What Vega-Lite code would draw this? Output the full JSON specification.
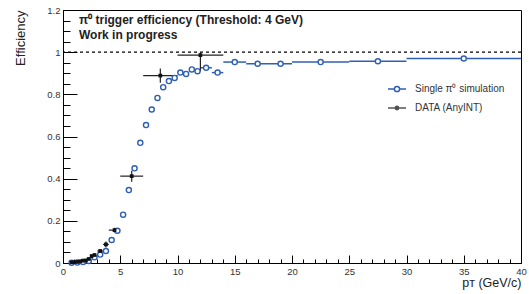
{
  "$schema": "https://vega.github.io/schema/vega-lite/v6.json",
  "width": 458,
  "height": 253,
  "autosize": {"type": "none"},
  "padding": {"left": 63, "top": 10, "right": 8, "bottom": 31},
  "config": {
    "font": "Liberation Sans",
    "view": {"stroke": "black", "strokeWidth": 1},
    "axis": {"grid": false, "domainColor": "black", "tickColor": "black", "tickWidth": 1, "labelColor": "#333", "labelFontSize": 9.5, "titleColor": "#222", "titleFontWeight": "normal", "titleFontSize": 12.5, "labelOverlap": false, "labelFlush": false, "labelBound": false},
    "legend": {"labelFont": "Liberation Sans", "labelFontSize": 10, "labelColor": "#333", "padding": 0, "symbolSize": 324, "symbolStrokeWidth": 1.5, "labelOffset": 8, "orient": "none", "title": null, "symbolOpacity": 1}
  },
  "resolve": {"axis": {"x": "independent", "y": "independent"}},
  "title": {
    "text": ["π⁰ trigger efficiency (Threshold: 4 GeV)", "Work in progress"],
    "anchor": "start",
    "frame": "group",
    "orient": "top",
    "baseline": "top",
    "fontSize": 12,
    "fontWeight": "bold",
    "color": "#222",
    "lineHeight": 15.5,
    "offset": 0,
    "dx": 16,
    "dy": 37
  },
  "datasets": {
    "sim": [
      {"pt": 0.75, "eff": 0.001},
      {"pt": 1.25, "eff": 0.002},
      {"pt": 1.75, "eff": 0.005},
      {"pt": 2.25, "eff": 0.010},
      {"pt": 2.75, "eff": 0.027},
      {"pt": 3.25, "eff": 0.040},
      {"pt": 3.75, "eff": 0.057},
      {"pt": 4.25, "eff": 0.109},
      {"pt": 4.75, "eff": 0.153},
      {"pt": 5.25, "eff": 0.229},
      {"pt": 5.75, "eff": 0.346},
      {"pt": 6.25, "eff": 0.449},
      {"pt": 6.75, "eff": 0.570},
      {"pt": 7.25, "eff": 0.654},
      {"pt": 7.75, "eff": 0.728},
      {"pt": 8.25, "eff": 0.783},
      {"pt": 8.75, "eff": 0.834},
      {"pt": 9.25, "eff": 0.863},
      {"pt": 9.75, "eff": 0.878},
      {"pt": 10.25, "eff": 0.903},
      {"pt": 10.75, "eff": 0.897},
      {"pt": 11.25, "eff": 0.918},
      {"pt": 11.75, "eff": 0.910},
      {"pt": 12.5, "eff": 0.926, "xlo": 12, "xhi": 13},
      {"pt": 13.5, "eff": 0.903, "xlo": 13, "xhi": 14},
      {"pt": 15, "eff": 0.953, "xlo": 14, "xhi": 16},
      {"pt": 17, "eff": 0.945, "xlo": 16, "xhi": 18},
      {"pt": 19, "eff": 0.945, "xlo": 18, "xhi": 20},
      {"pt": 22.5, "eff": 0.953, "xlo": 20, "xhi": 25},
      {"pt": 27.5, "eff": 0.957, "xlo": 25, "xhi": 30},
      {"pt": 35, "eff": 0.970, "xlo": 30, "xhi": 40}
    ],
    "dat": [
      {"pt": 0.75, "eff": 0.003, "xlo": 0.625, "xhi": 0.875, "ylo": 0.001, "yhi": 0.005},
      {"pt": 1.0, "eff": 0.004, "xlo": 0.875, "xhi": 1.125, "ylo": 0.002, "yhi": 0.006},
      {"pt": 1.25, "eff": 0.005, "xlo": 1.125, "xhi": 1.375, "ylo": 0.003, "yhi": 0.007},
      {"pt": 1.5, "eff": 0.008, "xlo": 1.375, "xhi": 1.625, "ylo": 0.006, "yhi": 0.010},
      {"pt": 1.75, "eff": 0.011, "xlo": 1.625, "xhi": 1.875, "ylo": 0.009, "yhi": 0.013},
      {"pt": 2.0, "eff": 0.012, "xlo": 1.875, "xhi": 2.125, "ylo": 0.009, "yhi": 0.015},
      {"pt": 2.25, "eff": 0.019, "xlo": 2.125, "xhi": 2.375, "ylo": 0.016, "yhi": 0.022},
      {"pt": 2.5, "eff": 0.033, "xlo": 2.375, "xhi": 2.625, "ylo": 0.029, "yhi": 0.037},
      {"pt": 2.75, "eff": 0.038, "xlo": 2.625, "xhi": 2.875, "ylo": 0.034, "yhi": 0.042},
      {"pt": 3.25, "eff": 0.057, "xlo": 3.0, "xhi": 3.5, "ylo": 0.051, "yhi": 0.063},
      {"pt": 3.75, "eff": 0.088, "xlo": 3.5, "xhi": 4.0, "ylo": 0.074, "yhi": 0.102},
      {"pt": 4.5, "eff": 0.156, "xlo": 4.0, "xhi": 5.0, "ylo": 0.145, "yhi": 0.167},
      {"pt": 6.0, "eff": 0.412, "xlo": 5.0, "xhi": 7.0, "ylo": 0.385, "yhi": 0.437},
      {"pt": 8.5, "eff": 0.889, "xlo": 7.0, "xhi": 10.0, "ylo": 0.855, "yhi": 0.922},
      {"pt": 12.0, "eff": 0.986, "xlo": 10.0, "xhi": 14.0, "ylo": 0.908, "yhi": 1.0}
    ]
  },
  "layer": [
    {
      "data": {"name": "sim"},
      "mark": {"type": "rule", "color": "#2f5fb5", "strokeWidth": 1.5},
      "encoding": {
        "x": {
          "field": "xlo", "type": "quantitative", "scale": {"domain": [0, 40]},
          "axis": {
            "orient": "bottom",
            "title": "pᴛ (GeV/c)",
            "values": [0, 5, 10, 15, 20, 25, 30, 35, 40],
            "tickSize": -8,
            "labelPadding": 11.5,
            "titleAnchor": "end", "titleAlign": "right", "titleX": 458, "titleY": 23.5, "titleBaseline": "alphabetic"
          }
        },
        "x2": {"field": "xhi"},
        "y": {
          "field": "eff", "type": "quantitative", "scale": {"domain": [0, 1.2]},
          "axis": {
            "orient": "left",
            "title": "Efficiency",
            "values": [0, 0.2, 0.4, 0.6, 0.8, 1, 1.2],
            "labelExpr": "format(datum.value, '~g')",
            "tickSize": -14,
            "labelPadding": 17,
            "titleAnchor": "end", "titleAlign": "right", "titleAngle": -90, "titleX": -39, "titleY": 0, "titleBaseline": "alphabetic", "titleFontSize": 13
          }
        }
      }
    },
    {
      "data": {"values": [{}]},
      "mark": {"type": "rule", "strokeDash": [3, 3], "color": "black", "strokeWidth": 1.2},
      "encoding": {
        "y": {
          "datum": 1, "type": "quantitative", "scale": {"domain": [0, 1.2]},
          "axis": {
            "orient": "left",
            "title": null,
            "values": [0.05, 0.1, 0.15, 0.25, 0.3, 0.35, 0.45, 0.5, 0.55, 0.65, 0.7, 0.75, 0.85, 0.9, 0.95, 1.05, 1.1, 1.15],
            "tickSize": -7,
            "labels": false,
            "domain": false
          }
        }
      }
    },
    {
      "data": {"name": "dat"},
      "mark": {"type": "rule", "color": "#222", "strokeWidth": 1.2},
      "encoding": {
        "x": {
          "field": "xlo", "type": "quantitative", "scale": {"domain": [0, 40]},
          "axis": {
            "orient": "bottom",
            "title": null,
            "values": [1,2,3,4,6,7,8,9,11,12,13,14,16,17,18,19,21,22,23,24,26,27,28,29,31,32,33,34,36,37,38,39],
            "tickSize": -4,
            "labels": false,
            "domain": false
          }
        },
        "x2": {"field": "xhi"},
        "y": {"field": "eff", "type": "quantitative", "scale": {"domain": [0, 1.2]}, "axis": null}
      }
    },
    {
      "data": {"name": "dat"},
      "mark": {"type": "rule", "color": "#222", "strokeWidth": 1.2},
      "encoding": {
        "x": {"field": "pt", "type": "quantitative", "scale": {"domain": [0, 40]}, "axis": null},
        "y": {"field": "ylo", "type": "quantitative", "scale": {"domain": [0, 1.2]}, "axis": null},
        "y2": {"field": "yhi"}
      }
    },
    {
      "data": {"name": "sim"},
      "mark": {"type": "point", "shape": "circle", "filled": false, "fill": "white", "strokeWidth": 1.4, "size": 26, "opacity": 1},
      "encoding": {
        "x": {"field": "pt", "type": "quantitative", "scale": {"domain": [0, 40]}, "axis": null},
        "y": {"field": "eff", "type": "quantitative", "scale": {"domain": [0, 1.2]}, "axis": null},
        "stroke": {
          "datum": "Single π⁰ simulation",
          "type": "nominal",
          "scale": {"range": ["#2f5fb5"]},
          "legend": {
            "legendX": 324,
            "legendY": 69,
            "symbolType": "M-1,0H-0.29M0.29,0H1M-0.29,0A0.29,0.29 0 1,0 0.29,0A0.29,0.29 0 1,0 -0.29,0",
            "symbolFillColor": "white"
          }
        }
      }
    },
    {
      "data": {"name": "dat"},
      "mark": {"type": "point", "shape": "square", "filled": true, "size": 14, "opacity": 1, "strokeWidth": 0},
      "encoding": {
        "x": {"field": "pt", "type": "quantitative", "scale": {"domain": [0, 40]}, "axis": null},
        "y": {"field": "eff", "type": "quantitative", "scale": {"domain": [0, 1.2]}, "axis": null},
        "fill": {
          "datum": "DATA (AnyINT)",
          "type": "nominal",
          "scale": {"range": ["#111"]},
          "legend": {
            "legendX": 324,
            "legendY": 88,
            "symbolType": "M-1,0H1M-0.19,0A0.19,0.19 0 1,0 0.19,0A0.19,0.19 0 1,0 -0.19,0",
            "symbolStrokeColor": "#555",
            "symbolStrokeWidth": 1.5
          }
        }
      }
    }
  ]
}
